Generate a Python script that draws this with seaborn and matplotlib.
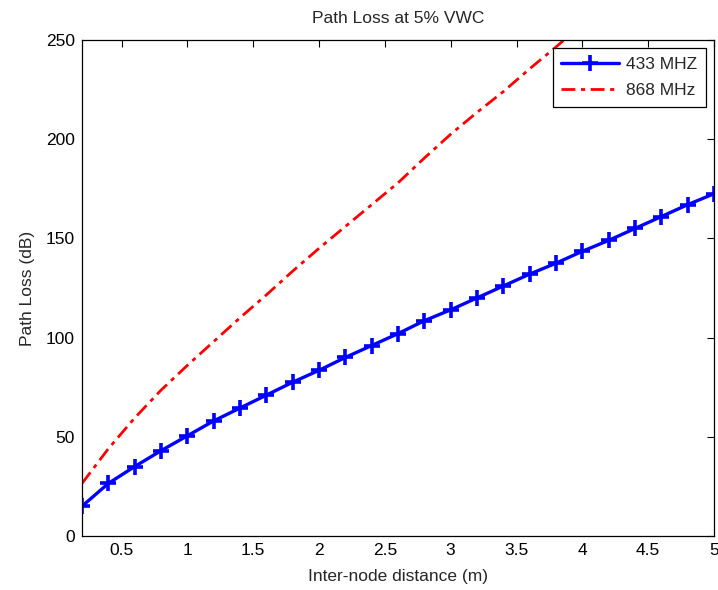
import matplotlib
matplotlib.use("Agg")
import matplotlib.pyplot as plt
import seaborn as sns
import pandas as pd
import numpy as np

# Data
dist_433 = [0.2, 0.4, 0.6, 0.8, 1.0, 1.2, 1.4, 1.6, 1.8, 2.0, 2.2, 2.4, 2.6,
            2.8, 3.0, 3.2, 3.4, 3.6, 3.8, 4.0, 4.2, 4.4, 4.6, 4.8, 5.0]
loss_433 = [15, 26.5, 35, 43, 50.5, 58, 64.5, 71, 77.5, 83.5, 90, 96, 102,
            108.5, 114, 120, 126, 132, 137.5, 143.5, 149, 155, 161, 167, 172.5]

dist_868 = [0.2, 0.4, 0.6, 0.8, 1.0, 1.2, 1.4, 1.6, 1.8, 2.0, 2.2, 2.4, 2.6,
            2.8, 3.0, 3.2, 3.4, 3.6, 3.8, 4.0]
loss_868 = [26.5, 44, 59.5, 73.5, 86, 98, 110, 121.5, 133.5, 145, 156, 167, 178,
            190.5, 202.5, 213.5, 224, 235.5, 246.5, 258]

x_ticks = [0.5, 1, 1.5, 2, 2.5, 3, 3.5, 4, 4.5, 5]
x_tick_labels = ["0.5", "1", "1.5", "2", "2.5", "3", "3.5", "4", "4.5", "5"]
y_ticks = [0, 50, 100, 150, 200, 250]

sns.set_style("white", {"xtick.direction": "in", "ytick.direction": "in"})
plt.rcParams["font.family"] = ["Liberation Sans", "DejaVu Sans"]
FS = 12.5
plt.rcParams["font.size"] = FS

fig = plt.figure(figsize=(7.18, 5.90), dpi=100)
ax = fig.add_axes([82/718, 54/590, 632/718, 496/590])

df433 = pd.DataFrame({"d": dist_433, "pl": loss_433})
df868 = pd.DataFrame({"d": dist_868, "pl": loss_868})

sns.lineplot(data=df433, x="d", y="pl", ax=ax, color="#0000ff", label="433 MHZ")
sns.lineplot(data=df868, x="d", y="pl", ax=ax, color="#ff0000", label="868 MHz")

l433, l868 = ax.lines[0], ax.lines[1]
l433.set_linestyle("-")
l433.set_linewidth(2.4)
l433.set_marker("+")
l433.set_markersize(11)
l433.set_markeredgewidth(2.6)
l433.set_markeredgecolor("#0000ff")
l868.set_linestyle((0, (5, 2, 1.5, 2)))
l868.set_linewidth(2.0)

ax.set_xlim(0.2, 5)
ax.set_ylim(0, 250)
ax.set_xticks(x_ticks)
ax.set_xticklabels(x_tick_labels)
ax.set_yticks(y_ticks)
ax.tick_params(axis="both", which="both", direction="in", length=5, width=0.8,
               top=True, right=True, labelsize=FS, colors="black", pad=5)
for s in ax.spines.values():
    s.set_color("black")
    s.set_linewidth(0.9)

ax.set_xlabel("Inter-node distance (m)", fontsize=FS, labelpad=8)
ax.set_ylabel("Path Loss (dB)", fontsize=FS, labelpad=8)
ax.set_title("Path Loss at 5% VWC", fontsize=FS, pad=12)

leg = ax.legend(handles=[l433, l868], labels=["433 MHZ", "868 MHz"],
                loc="upper right", fontsize=FS, frameon=True, fancybox=False,
                edgecolor="black", framealpha=1, borderaxespad=0.45,
                handlelength=3.3, borderpad=0.5, labelspacing=0.65,
                handletextpad=0.45)
leg.get_frame().set_linewidth(0.9)

fig.savefig("out.png", dpi=100)
